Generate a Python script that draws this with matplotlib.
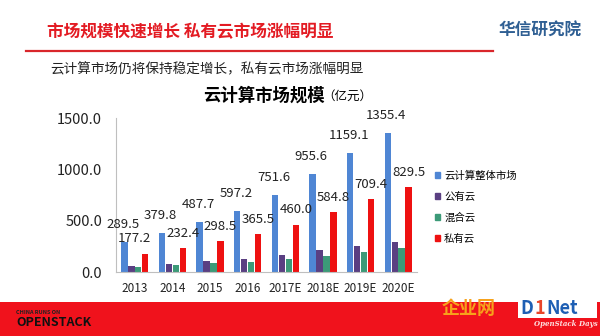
import numpy as np
import matplotlib
matplotlib.use("Agg")
import matplotlib.pyplot as plt
import matplotlib.patches as mpatches

plt.rcParams['font.family'] = ['Noto Sans CJK SC', 'DejaVu Sans']

# 数据（亿元）
years   = ["2013", "2014", "2015", "2016", "2017E", "2018E", "2019E", "2020E"]
total   = [289.5, 379.8, 487.7, 597.2, 751.6, 955.6, 1159.1, 1355.4]
public  = [60, 82, 105, 130, 165, 212, 255, 295]
hybrid  = [52, 65, 84, 102, 127, 160, 195, 232]
private = [177.2, 232.4, 298.5, 365.5, 460.0, 584.8, 709.4, 829.5]

series_names = ["云计算整体市场", "公有云", "混合云", "私有云"]
COLORS = ["#4f86d4", "#5a3f82", "#3c9a78", "#ee1111"]
RED    = "#e31b23"

fig = plt.figure(figsize=(6, 3.36), dpi=100)
fig.patch.set_facecolor("white")

# 页眉
fig.text(47 / 600, 1 - 32 / 336, "市场规模快速增长 私有云市场涨幅明显",
         fontsize=12, fontweight="bold", color=RED, va="center", ha="left")
fig.text(582 / 600, 1 - 31 / 336, "华信研究院", fontsize=12, fontweight="bold",
         color="#2f5f93", va="center", ha="right")
fig.add_artist(plt.Line2D([26 / 600, 493 / 600], [1 - 51 / 336, 1 - 51 / 336],
                          color="#d9262b", linewidth=1.6, transform=fig.transFigure))
fig.text(50 / 600, 1 - 69 / 336, "云计算市场仍将保持稳定增长，私有云市场涨幅明显",
         fontsize=9.8, color="#222222", va="center", ha="left")
fig.text(203 / 600, 1 - 96 / 336, "云计算市场规模", fontsize=12.5, fontweight="bold",
         color="black", va="center", ha="left")
fig.text(322 / 600, 1 - 96 / 336, "（亿元）", fontsize=9, color="black",
         va="center", ha="left")

# 图表
ax = fig.add_axes([116 / 600, 1 - 272 / 336, (417 - 116) / 600, (272 - 118) / 336])
x = np.arange(len(years))
w = 0.17
step = 0.185
data = [total, public, hybrid, private]
bars = []
for i, (vals, c) in enumerate(zip(data, COLORS)):
    b = ax.bar(x + (i - 1.5) * step, vals, width=w, color=c, label=series_names[i])
    bars.append(b)

for j, (rect, v) in enumerate(zip(bars[0], total)):
    ax.annotate(f"{v:.1f}", (rect.get_x() + rect.get_width() / 2, v),
                xytext=(-1, 8), textcoords="offset points",
                ha="center", va="bottom", fontsize=9.5, color="#222222")
for j, (rect, v) in enumerate(zip(bars[3], private)):
    dx = -8 if j == 0 else 0
    ax.annotate(f"{v:.1f}", (rect.get_x() + rect.get_width() / 2, v),
                xytext=(dx, 6), textcoords="offset points",
                ha="center", va="bottom", fontsize=9.5, color="#222222")

ax.set_xlim(-0.5, len(years) - 0.5)
ax.set_ylim(0, 1500)
ax.set_yticks([0, 500, 1000, 1500])
ax.set_yticklabels([f"{t:.1f}" for t in [0, 500, 1000, 1500]], fontsize=10.5)
ax.set_xticks(x)
ax.set_xticklabels(years, fontsize=8.5)
ax.tick_params(axis="both", length=0, colors="#222222")
ax.tick_params(axis="y", pad=10)
ax.tick_params(axis="x", pad=7)
for s in ["top", "right"]:
    ax.spines[s].set_visible(False)
for s in ["left", "bottom"]:
    ax.spines[s].set_color("#bfbfbf")
    ax.spines[s].set_linewidth(0.8)

handles = [mpatches.Patch(color=c, label=n) for c, n in zip(COLORS, series_names)]
fig.legend(handles=handles, loc="upper left", bbox_to_anchor=(428 / 600, 1 - 163 / 336),
           frameon=False, fontsize=7.5, handlelength=0.5, handleheight=0.5,
           handletextpad=0.35, labelspacing=1.05, borderpad=0.2)

# 底部红色条
fig.add_artist(mpatches.Rectangle((0, 0), 1, 34 / 336, transform=fig.transFigure,
                                  facecolor="#f0121c", edgecolor="none", zorder=0))
fig.text(16 / 600, 1 - 312 / 336, "CHINA RUNS ON", fontsize=4, fontweight="bold",
         color="#222222", va="center", ha="left")
fig.text(16 / 600, 1 - 323 / 336, "OPENSTACK", fontsize=9, fontweight="heavy",
         color="#111111", va="center", ha="left")

# logo
fig.text(442 / 600, 1 - 309 / 336, "企业网", fontsize=13, fontweight="heavy",
         color="#f7a21b", va="center", ha="left")
fig.add_artist(mpatches.Rectangle((518 / 600, 1 - 318 / 336), 79 / 600, 18 / 336,
                                  transform=fig.transFigure, facecolor="white",
                                  edgecolor="none"))
fig.text(520 / 600, 1 - 309 / 336, "D", fontsize=13, fontweight="bold",
         color="#1e5fb4", va="center", ha="left")
fig.text(535 / 600, 1 - 309 / 336, "1", fontsize=13, fontweight="bold",
         color="#e8452a", va="center", ha="left")
fig.text(546 / 600, 1 - 309 / 336, "Net", fontsize=13, fontweight="bold",
         color="#1e5fb4", va="center", ha="left")
fig.text(534 / 600, 1 - 324 / 336, "OpenStack Days", fontsize=5, style="italic",
         fontweight="bold", color="#fde0e0", va="center", ha="left",
         family="DejaVu Serif")

fig.savefig("out.png", dpi=100)
